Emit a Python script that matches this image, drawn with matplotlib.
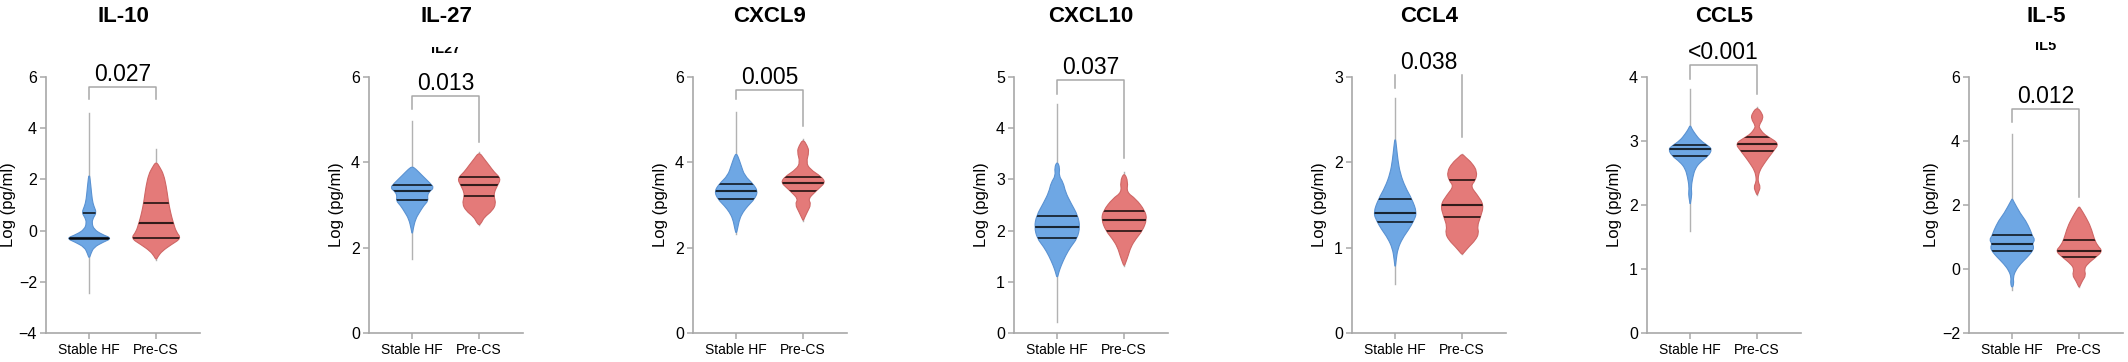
import numpy as np
import matplotlib.pyplot as plt
from matplotlib.path import Path
from matplotlib.patches import PathPatch
from matplotlib.transforms import Bbox

plt.rcParams['font.family'] = ['Liberation Sans', 'DejaVu Sans']

# cytokine panels
names = ['IL-10', 'IL-27', 'CXCL9', 'CXCL10', 'CCL4', 'CCL5', 'IL-5']
pvals = ['0.027', '0.013', '0.005', '0.037', '0.038', '<0.001', '0.012']
groups = ['Stable HF', 'Pre-CS']
ylims = [(-4, 6), (0, 6), (0, 6), (0, 5), (0, 3), (0, 4), (-2, 6)]
ysteps = [2, 2, 2, 1, 1, 1, 2]
# leftover (cut off) sub headers in the source image
cut_labels = [None, 'IL27', None, None, None, None, 'IL5']

# violin outlines: (log value, density), top -> bottom
IL10_HF = [(2.3, 0), (1.75, 5), (1.2, 9), (0.95, 14), (0.7, 22), (0.5, 12), (0.3, 8),
           (0.05, 14), (-0.15, 38), (-0.3, 68), (-0.45, 42), (-0.65, 14), (-0.9, 5), (-1.1, 0)]
IL10_PC = [(2.7, 0), (2.45, 12), (2.2, 22), (1.75, 30), (1.2, 36), (0.9, 40), (0.55, 46),
           (0.28, 52), (-0.05, 60), (-0.3, 75), (-0.55, 45), (-0.8, 18), (-1.0, 6), (-1.15, 0)]
IL27_HF = [(3.9, 0), (3.85, 10), (3.69, 30), (3.5, 55), (3.4, 65), (3.32, 52), (3.22, 45),
           (3.1, 48), (2.99, 35), (2.83, 22), (2.67, 10), (2.44, 3), (2.3, 0)]
IL27_PC = [(4.24, 0), (4.08, 15), (3.93, 30), (3.77, 45), (3.62, 65), (3.46, 55), (3.3, 45),
           (3.18, 45), (3.03, 50), (2.87, 40), (2.71, 15), (2.6, 8), (2.52, 0)]
CXCL9_HF = [(4.2, 0), (4.15, 5), (3.92, 15), (3.69, 25), (3.5, 50), (3.32, 65), (3.14, 55),
            (2.98, 35), (2.83, 20), (2.67, 10), (2.44, 4), (2.32, 0)]
CXCL9_PC = [(4.54, 0), (4.39, 12), (4.25, 18), (4.0, 9), (3.84, 20), (3.66, 55), (3.53, 66),
            (3.41, 50), (3.3, 35), (3.14, 15), (3.02, 24), (2.83, 12), (2.68, 3), (2.63, 0)]
CXCL10_HF = [(3.35, 0), (3.23, 8), (3.07, 5), (2.94, 18), (2.75, 25), (2.55, 40), (2.29, 62),
             (2.07, 68), (1.85, 60), (1.68, 40), (1.51, 25), (1.32, 12), (1.19, 5), (1.06, 0)]
CXCL10_PC = [(3.14, 0), (2.95, 12), (2.75, 7), (2.62, 35), (2.39, 62), (2.22, 68), (2.0, 55),
             (1.84, 35), (1.68, 20), (1.51, 12), (1.38, 5), (1.3, 0)]
CCL4_HF = [(2.3, 0), (2.18, 4), (2.03, 8), (1.87, 15), (1.71, 30), (1.57, 50), (1.41, 65),
           (1.31, 55), (1.21, 40), (1.11, 22), (0.99, 8), (0.86, 3), (0.75, 0)]
CCL4_PC = [(2.1, 0), (2.06, 10), (1.99, 30), (1.89, 45), (1.79, 40), (1.72, 25), (1.62, 45),
           (1.5, 65), (1.36, 55), (1.25, 45), (1.17, 50), (1.09, 40), (1.01, 20), (0.94, 5), (0.92, 0)]
CCL5_HF = [(3.25, 0), (3.19, 5), (3.11, 15), (3.01, 30), (2.92, 55), (2.87, 65), (2.77, 55),
           (2.67, 30), (2.57, 15), (2.44, 8), (2.28, 3), (2.17, 5), (2.07, 2), (2.0, 0)]
CCL5_PC = [(3.53, 0), (3.43, 15), (3.35, 18), (3.24, 5), (3.19, 8), (3.11, 20), (3.06, 35),
           (2.96, 65), (2.85, 50), (2.75, 35), (2.64, 20), (2.54, 8), (2.44, 3), (2.36, 3),
           (2.28, 10), (2.2, 4), (2.15, 0)]
IL5_HF = [(2.2, 0), (2.14, 3), (1.72, 25), (1.52, 40), (1.2, 55), (1.04, 60), (0.91, 68),
          (0.79, 60), (0.68, 65), (0.55, 60), (0.37, 45), (0.16, 25), (-0.05, 10), (-0.26, 3),
          (-0.46, 5), (-0.6, 0)]
IL5_PC = [(1.95, 0), (1.88, 5), (1.62, 20), (1.31, 35), (0.94, 45), (0.73, 55), (0.56, 70),
          (0.37, 50), (0.16, 25), (0.0, 15), (-0.2, 20), (-0.36, 10), (-0.52, 3), (-0.57, 0)]

# quartiles (q1, median, q3) and min/max
IL10_Q = [(-0.32, -0.3, 0.7), (-0.3, 0.28, 1.08)]
IL27_Q = [(3.12, 3.32, 3.47), (3.2, 3.47, 3.65)]
CXCL9_Q = [(3.15, 3.32, 3.5), (3.32, 3.52, 3.66)]
CXCL10_Q = [(1.86, 2.07, 2.29), (2.0, 2.21, 2.38)]
CCL4_Q = [(1.3, 1.41, 1.57), (1.36, 1.5, 1.79)]
CCL5_Q = [(2.76, 2.87, 2.93), (2.85, 2.96, 3.07)]
IL5_Q = [(0.55, 0.79, 1.05), (0.37, 0.56, 0.92)]

IL10_RANGE = [(-2.43, 4.6), (-1.15, 3.2)]
IL27_RANGE = [(1.74, 4.98), (2.52, 4.25)]
CXCL9_RANGE = [(2.32, 5.17), (2.63, 4.54)]
CXCL10_RANGE = [(0.21, 4.47), (1.3, 3.14)]
CCL4_RANGE = [(0.58, 2.75), (0.92, 2.1)]
CCL5_RANGE = [(1.6, 3.82), (2.15, 3.53)]
IL5_RANGE = [(-0.67, 4.23), (-0.57, 1.95)]

# significance brackets: top, left leg end, right leg end
bracket_top = [5.6, 5.55, 5.7, 4.94, 3.02, 4.18, 4.99]
bracket_legs = [(5.13, 5.13), (5.26, 4.47), (5.48, 4.85), (4.66, 3.41),
                (2.875, 2.3), (3.97, 3.74), (4.59, 2.25)]
bracket_bar = [True, True, True, True, False, True, True]

profiles = [(IL10_HF, IL10_PC), (IL27_HF, IL27_PC), (CXCL9_HF, CXCL9_PC),
            (CXCL10_HF, CXCL10_PC), (CCL4_HF, CCL4_PC), (CCL5_HF, CCL5_PC), (IL5_HF, IL5_PC)]
quarts = [IL10_Q, IL27_Q, CXCL9_Q, CXCL10_Q, CCL4_Q, CCL5_Q, IL5_Q]
ranges = [IL10_RANGE, IL27_RANGE, CXCL9_RANGE, CXCL10_RANGE, CCL4_RANGE, CCL5_RANGE, IL5_RANGE]

W, H = 2128, 362
panel_left = [46, 369, 693, 1014, 1352, 1647, 1969]
fills = ['#6ea7e4', '#e47a79']
edges = ['#5a92d2', '#cf6665']
GREY = '#a8a8a8'


def violin_path(prof, xc, scale=1 / 200.):
    ys = np.array([p[0] for p in prof])
    hw = np.array([p[1] for p in prof]) * scale
    pts = [(xc + w, y) for y, w in zip(ys, hw)]
    pts += [(xc - w, y) for y, w in zip(ys[-2:0:-1], hw[-2:0:-1])]
    pts = np.array(pts)
    n = len(pts)
    mid = lambda a, b: (a + b) / 2
    verts = [mid(pts[-1], pts[0])]
    codes = [Path.MOVETO]
    for i in range(n):
        verts += [pts[i], mid(pts[i], pts[(i + 1) % n])]
        codes += [Path.CURVE3, Path.CURVE3]
    verts.append(verts[0])
    codes.append(Path.CLOSEPOLY)
    return Path(verts, codes), ys, hw


fig = plt.figure(figsize=(W / 100, H / 100), dpi=100)

for i, name in enumerate(names):
    ax = fig.add_axes([panel_left[i] / W, (H - 333) / H, 154 / W, 256 / H])
    lo, hi = ylims[i]
    ax.set_xlim(-0.645, 1.655)
    ax.set_ylim(lo, hi)

    for g in range(2):
        mn, mx = ranges[i][g]
        ax.plot([g, g], [mn, mx], color='#b2b2b2', lw=1.0, zorder=1)
        path, ys, hw = violin_path(profiles[i][g], g)
        patch = PathPatch(path, facecolor=fills[g], edgecolor=edges[g], lw=0.8, zorder=2)
        ax.add_patch(patch)
        for k, q in enumerate(quarts[i][g]):
            w = np.interp(q, ys[::-1], hw[::-1]) * 1.15 + 0.02
            ln, = ax.plot([g - w, g + w], [q, q], color='black', alpha=0.78,
                          lw=1.5 if k == 1 else 1.3, zorder=3, solid_capstyle='butt')
            ln.set_clip_path(patch)

    # bracket + p value
    top = bracket_top[i]
    l_end, r_end = bracket_legs[i]
    if bracket_bar[i]:
        ax.plot([0, 0, 1, 1], [l_end, top, top, r_end], color=GREY, lw=1.1, clip_on=False, zorder=1)
    else:
        ax.plot([0, 0], [l_end, top], color=GREY, lw=1.1, clip_on=False, zorder=1)
        ax.plot([1, 1], [r_end, top], color=GREY, lw=1.1, clip_on=False, zorder=1)
    ax.annotate(pvals[i], (0.5, top), xytext=(0, 4.5), textcoords='offset points',
                ha='center', va='baseline', fontsize=16.5, annotation_clip=False)

    for s in ['top', 'right']:
        ax.spines[s].set_visible(False)
    for s in ['left', 'bottom']:
        ax.spines[s].set_color(GREY)
        ax.spines[s].set_linewidth(1.2)
    ax.set_yticks(np.arange(lo, hi + ysteps[i] / 2, ysteps[i]))
    ax.set_xticks([0, 1])
    ax.set_xticklabels(groups)
    ax.tick_params(axis='y', colors=GREY, labelcolor='black', labelsize=11.5, length=4.5, width=1.1, pad=2)
    ax.tick_params(axis='x', colors=GREY, labelcolor='black', labelsize=10, length=4.5, width=1.1, pad=3)
    ax.set_ylabel('Log (pg/ml)', fontsize=12)
    ax.yaxis.set_label_coords(-(30 if lo < 0 else 25) / 154, 0.5)

    cx = panel_left[i] + 77
    fig.text(cx / W, 1 - 17 / H, name, ha='center', va='center', fontsize=16, weight='bold')

    if cut_labels[i]:
        base = 53 if i == 1 else 50
        clip_top = 47 if i == 1 else 42
        t = fig.text(cx / W, 1 - base / H, cut_labels[i], ha='center', va='baseline',
                     fontsize=10.5, weight='bold')
        t.set_clip_box(Bbox([[cx - 40, 0], [cx + 40, H - clip_top]]))
        t.set_clip_on(True)

fig.savefig('out.png', dpi=100, facecolor='white')
